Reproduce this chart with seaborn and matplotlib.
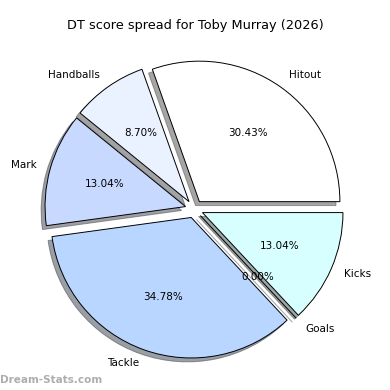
import matplotlib
matplotlib.use("Agg")
import matplotlib.pyplot as plt
import seaborn as sns

sns.set_style("white")
plt.rcParams['font.family'] = ['DejaVu Sans']
plt.rcParams['text.color'] = 'black'

categories = ["Hitout", "Handballs", "Mark", "Tackle", "Goals", "Kicks"]
scores = [7, 2, 3, 8, 0, 3]
colors = ["#ffffff", "#eaf1ff", "#c8d9ff", "#b8d6ff", "#c8e8ff", "#d8ffff"]
title = "DT score spread for Toby Murray (2026)"
watermark = "Dream-Stats.com"

R = 140.5
CX, CY = 194.2, 209.0

fig = plt.figure(figsize=(3.9, 3.9), dpi=100)
ax = fig.add_axes([0, 0, 1, 1])
ax.pie(scores, labels=categories, colors=colors, autopct="%1.2f%%",
       startangle=0, explode=[0.064] * len(scores), shadow=True,
       wedgeprops=dict(edgecolor="black", linewidth=0.7),
       textprops=dict(fontsize=7.5, color="black"))
ax.set_xlim(-CX / R, (390 - CX) / R)
ax.set_ylim(-(390 - CY) / R, CY / R)
ax.set_aspect("equal")
ax.axis("off")
fig.text(0.5, 1 - 25 / 390, title, ha="center", va="center", fontsize=9.3,
         color="black")
fig.text(0.0, 1 - 380 / 390, watermark, ha="left", va="center", fontsize=7.5,
         color="#999999", fontweight="bold", alpha=0.8)
fig.savefig("out.png", dpi=100)
